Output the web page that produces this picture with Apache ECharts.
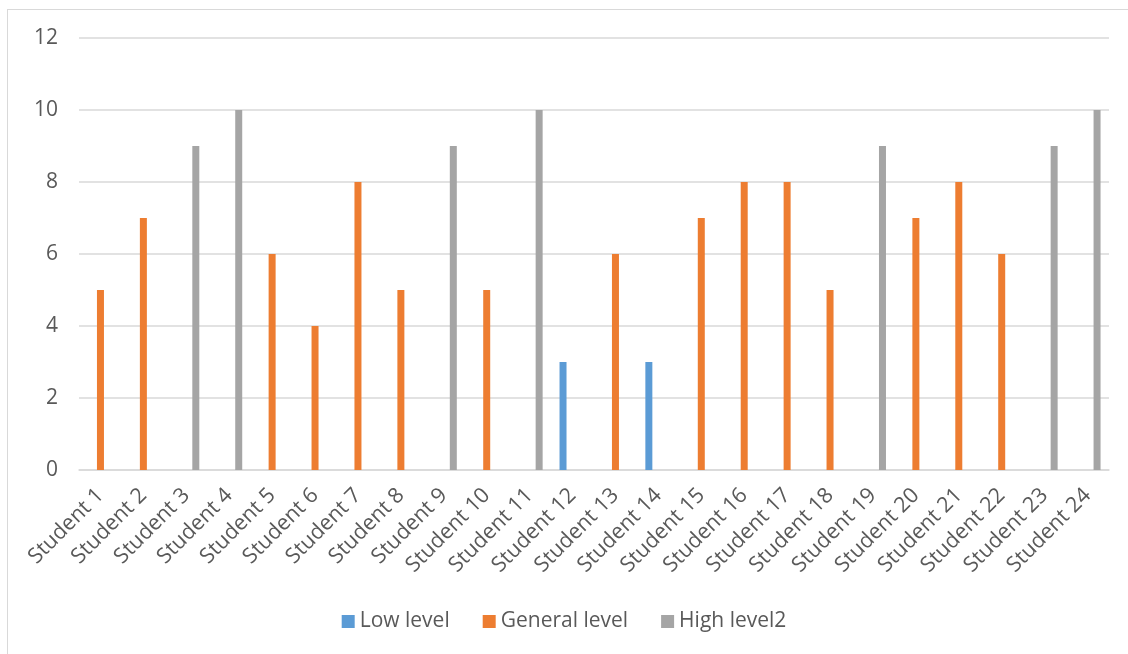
<!DOCTYPE html>
<html>
<head>
<meta charset="utf-8">
<script src="https://cdn.jsdelivr.net/npm/echarts@6/dist/echarts.min.js"></script>
<style>
html,body{margin:0;padding:0;background:#fff;}
#frame{position:absolute;left:7px;top:9px;width:1140px;height:660px;border-left:1px solid #d9d9d9;border-top:1px solid #d9d9d9;}
#chart{position:absolute;left:0;top:0;width:1128px;height:654px;}
</style>
</head>
<body>
<div id="frame"></div>
<div id="chart"></div>
<script>
const categories = ['Student 1','Student 2','Student 3','Student 4','Student 5','Student 6','Student 7','Student 8','Student 9','Student 10','Student 11','Student 12','Student 13','Student 14','Student 15','Student 16','Student 17','Student 18','Student 19','Student 20','Student 21','Student 22','Student 23','Student 24'];
const lowLevel     = [null,null,null,null,null,null,null,null,null,null,null,3,null,3,null,null,null,null,null,null,null,null,null,null];
const generalLevel = [5,7,null,null,6,4,8,5,null,5,null,null,6,null,7,8,8,5,null,7,8,6,null,null];
const highLevel    = [null,null,9,10,null,null,null,null,9,null,10,null,null,null,null,null,null,null,9,null,null,null,9,10];
const seriesNames = ['Low level','General level','High level2'];
const colors = ['#5b9bd5','#ed7d31','#a5a5a5'];

const chart = echarts.init(document.getElementById('chart'));
const font = 'Open Sans, Liberation Sans, sans-serif';
chart.setOption({
  animation:false,
  color: colors,
  textStyle:{fontFamily:font},
  grid:{left:79,right:19,top:38,bottom:184,containLabel:false},
  legend:{
    bottom:17,left:'center',itemWidth:13,itemHeight:13,itemGap:33,icon:'rect',
    textStyle:{fontSize:21,color:'#595959',fontFamily:font},
    data:seriesNames
  },
  xAxis:{
    type:'category',data:categories,
    axisLine:{lineStyle:{color:'#d9d9d9',width:1.5}},
    axisTick:{show:false},
    axisLabel:{rotate:45,interval:0,fontSize:21.5,color:'#595959',margin:22,fontFamily:font}
  },
  yAxis:{
    type:'value',min:0,max:12,interval:2,
    axisLine:{show:false},axisTick:{show:false},
    splitLine:{lineStyle:{color:'#d9d9d9',width:1.5}},
    axisLabel:{fontSize:21,color:'#595959',margin:21,fontFamily:font}
  },
  series:[
    {name:seriesNames[0],type:'bar',data:lowLevel,barWidth:7,barGap:'36%'},
    {name:seriesNames[1],type:'bar',data:generalLevel,barWidth:7,barGap:'36%'},
    {name:seriesNames[2],type:'bar',data:highLevel,barWidth:7,barGap:'36%'}
  ]
});
</script>
</body>
</html>
